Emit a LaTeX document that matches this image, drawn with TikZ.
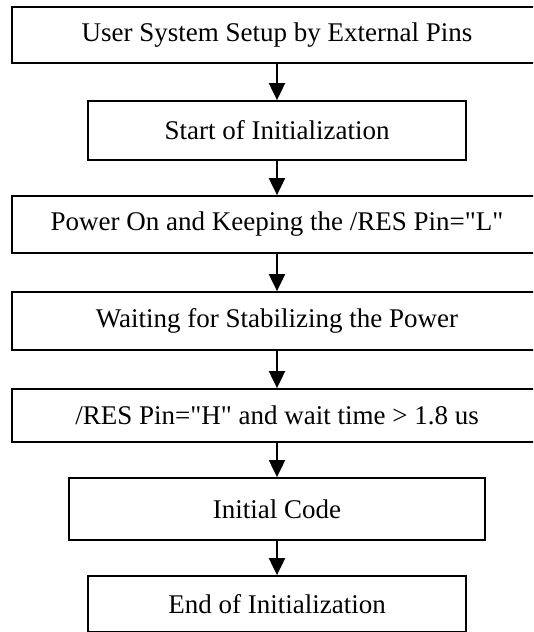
\documentclass[tikz,border=0pt]{standalone}
\usepackage{fontspec}
\setmainfont{Liberation Serif}
\usetikzlibrary{arrows.meta}

\begin{document}
\begin{tikzpicture}[x=1pt, y=-1pt, >={Triangle[length=17pt,width=16pt]},
	procbox/.style={draw, line width=1.8pt, minimum height=56pt, inner sep=0pt, font=\fontsize{27}{32}\selectfont},
	flow/.style={->, line width=2pt}]
	\clip (0,0) rectangle (533,632);
	\fill[white] (0,0) rectangle (533,632);
	\node[procbox, minimum width=530pt] (setup) at (277, 35) {User System Setup by External Pins};
	\node[procbox, minimum width=378pt, minimum height=59pt] (start) at (277, 130.5) {Start of Initialization};
	\node[procbox, minimum width=530pt, minimum height=57pt] (poweron) at (277, 224.5) {Power On and Keeping the /RES Pin=\textquotedbl L\textquotedbl};
	\node[procbox, minimum width=530pt, minimum height=58pt] (stable) at (277, 321) {Waiting for Stabilizing the Power};
	\node[procbox, minimum width=530pt, minimum height=53pt] (reshigh) at (277, 415.5) {/RES Pin=\textquotedbl H\textquotedbl{} and wait time > 1.8 us};
	\node[procbox, minimum width=416pt, minimum height=62pt] (initcode) at (277, 509) {Initial Code};
	\node[procbox, minimum width=378pt] (finish) at (277, 604) {End of Initialization};
	\draw[flow] (setup) -- (start);
	\draw[flow] (start) -- (poweron);
	\draw[flow] (poweron) -- (stable);
	\draw[flow] (stable) -- (reshigh);
	\draw[flow] (reshigh) -- (initcode);
	\draw[flow] (initcode) -- (finish);
\end{tikzpicture}
\end{document}
